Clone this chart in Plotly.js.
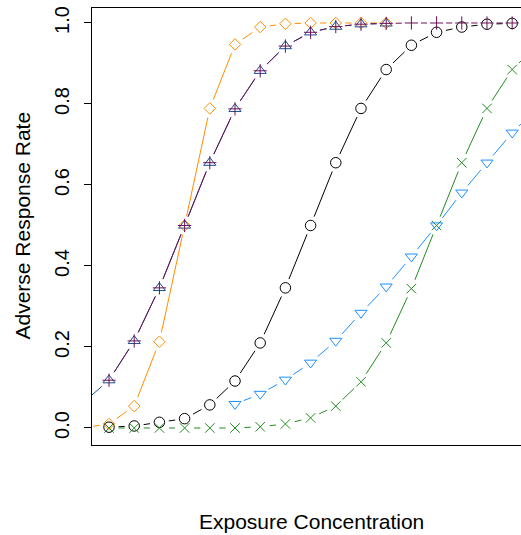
<!DOCTYPE html>
<html><head><meta charset="utf-8">
<script src="https://cdn.plot.ly/plotly-3.0.1.min.js"></script>
<style>html,body{margin:0;padding:0;background:#fff;}#chart{width:521px;height:535px;}</style>
</head><body><div id="chart"></div>
<script>
// Exposure concentration step (index along the x axis, no labels shown)
const xNavy   = [-1,0,1,2,3,4,5,6,7,8,9,10,11];
const yNavy   = [0.064,0.118,0.215,0.346,0.5,0.655,0.788,0.882,0.943,0.977,0.991,0.997,0.999];
const xPurple = [0,1,2,3,4,5,6,7,8,9,10,11,12,13,14,15,16,17];
const yPurple = [0.118,0.215,0.346,0.5,0.655,0.788,0.882,0.943,0.977,0.991,0.997,0.999,1.0,1.0,1.0,1.0,1.0,1.0];
const xOrange = [-1,0,1,2,3,4,5,6,7,8,9,10,11];
const yOrange = [0.001,0.01,0.054,0.213,0.5,0.789,0.947,0.99,0.998,1.0,1.0,1.0,1.0];
const xBlack  = [0,1,2,3,4,5,6,7,8,9,10,11,12,13,14,15,16,17];
const yBlack  = [0.002,0.005,0.014,0.023,0.057,0.116,0.21,0.346,0.5,0.655,0.789,0.885,0.945,0.977,0.99,0.997,0.999,1.0];
const xDodger = [5,6,7,8,9,10,11,12,13,14,15,16,17];
const yDodger = [0.059,0.084,0.119,0.161,0.215,0.284,0.349,0.423,0.5,0.581,0.655,0.729,0.79];
const xGreen  = [0,1,2,3,4,5,6,7,8,9,10,11,12,13,14,15,16,17];
const yGreen  = [0,0,0,0,0,0,0.003,0.01,0.025,0.054,0.114,0.21,0.344,0.5,0.655,0.789,0.885,0.945];

const yTickVals = [0,0.2,0.4,0.6,0.8,1.0];
const yTickText = ['0.0','0.2','0.4','0.6','0.8','1.0'];

const W = 429, H = 437;
const xr = [-0.675, 16.35], yr = [-0.042, 1.037];
const px = x => (x - xr[0]) / (xr[1] - xr[0]) * W;
const py = y => (y - yr[0]) / (yr[1] - yr[0]) * H;
const ux = p => xr[0] + p / W * (xr[1] - xr[0]);
const uy = p => yr[0] + p / H * (yr[1] - yr[0]);
// R type="b": line segments stop short of the points
function gapped(xs, ys, g) {
  const X = [], Y = [];
  for (let i = 0; i < xs.length - 1; i++) {
    const ax = px(xs[i]), ay = py(ys[i]), bx = px(xs[i+1]), by = py(ys[i+1]);
    const d = Math.hypot(bx - ax, by - ay);
    if (d > 2 * g) {
      const t = g / d;
      X.push(ux(ax + (bx-ax)*t), ux(bx - (bx-ax)*t), null);
      Y.push(uy(ay + (by-ay)*t), uy(by - (by-ay)*t), null);
    }
  }
  return {X, Y};
}

const series = [
  {x:xBlack,  y:yBlack,  color:'#000000', symbol:'circle-open',        size:10.5},
  {x:xGreen,  y:yGreen,  color:'#228B22', symbol:'x-thin-open',        size:9.5},
  {x:xDodger, y:yDodger, color:'#1E90FF', symbol:'triangle-down-open', size:10.5},
  {x:xOrange, y:yOrange, color:'#FF8C00', symbol:'diamond-open',       size:8.8},
  {x:xNavy,   y:yNavy,   color:'#1D4E8F', symbol:'triangle-up-open',   size:10.5},
  {x:xPurple, y:yPurple, color:'#6B1158', symbol:'cross-thin-open',    size:9.5}
];
const traces = [];
series.forEach(s => {
  const g = gapped(s.x, s.y, 9.5);
  traces.push({x:g.X, y:g.Y, mode:'lines', line:{color:s.color, width:1}, hoverinfo:'skip', showlegend:false, connectgaps:false});
});
series.forEach(s => {
  traces.push({x:s.x, y:s.y, mode:'markers', marker:{symbol:s.symbol, size:s.size, color:s.color, line:{color:s.color, width:1}}, showlegend:false});
});

const font = 'Liberation Sans, Arial, sans-serif';
const layout = {
  width:521, height:535,
  margin:{l:92, r:0, t:8, b:90, pad:0},
  paper_bgcolor:'#ffffff', plot_bgcolor:'#ffffff', showlegend:false,
  xaxis:{range:xr, showline:true, mirror:true, linecolor:'#000', linewidth:1, showgrid:false, zeroline:false, showticklabels:false, ticks:''},
  yaxis:{range:yr, showline:true, linecolor:'#000', linewidth:1, showgrid:false, zeroline:false,
         ticks:'outside', ticklen:7, tickwidth:1, tickcolor:'#000',
         tickvals:yTickVals, ticktext:yTickText, tickangle:-90, ticklabelstandoff:7,
         tickfont:{family:font, size:20, color:'#000'}},
  annotations:[
    {text:'Exposure Concentration', xref:'paper', yref:'paper', x:(311-92)/429, y:(445-521)/437,
     xanchor:'center', yanchor:'middle', showarrow:false, font:{family:font, size:21, color:'#000'}},
    {text:'Adverse Response Rate', xref:'paper', yref:'paper', x:(22-92)/429, y:(445-225.5)/437,
     xanchor:'center', yanchor:'middle', textangle:-90, showarrow:false, font:{family:font, size:21, color:'#000'}}
  ]
};
Plotly.newPlot('chart', traces, layout, {staticPlot:true, displayModeBar:false});
</script>
</body></html>
